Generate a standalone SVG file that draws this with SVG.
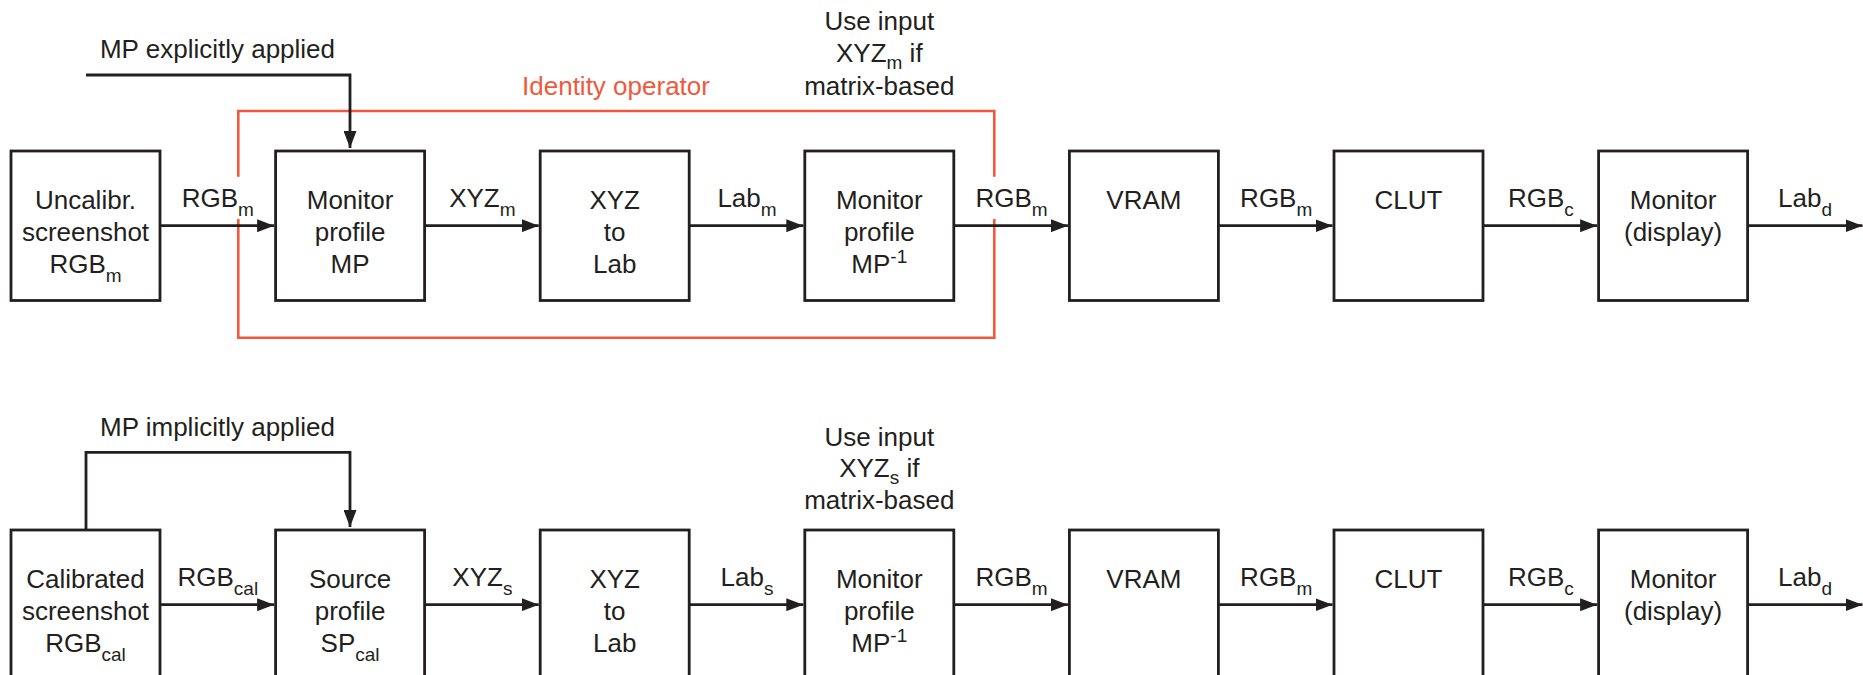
<svg xmlns="http://www.w3.org/2000/svg" width="1863" height="675" viewBox="0 0 1863 675">
<style>
text{font-family:"Liberation Sans",Arial,sans-serif;font-size:26px;fill:#231f20;text-anchor:middle}
.box{fill:#fff;stroke:#231f20;stroke-width:2.8}
.ln{fill:none;stroke:#231f20;stroke-width:2.8}
.red{fill:none;stroke:#ef5a3d;stroke-width:2.6}
.redt{fill:#ef5a3d}
.s{font-size:19px}
</style>
<defs>
<marker id="ah" markerUnits="userSpaceOnUse" markerWidth="18" markerHeight="13" refX="17" refY="6.5" orient="auto">
<path d="M0,0 L17,6.5 L0,13 Z" fill="#231f20"/>
</marker>
</defs>
<rect width="1863" height="675" fill="#fff"/>

<g id="identity-operator">
<path class="red" d="M238.3,176.7 V111 H994.3 V176.7"/>
<path class="red" d="M238.3,219 V337.7 H994.3 V219"/>
<text class="redt" x="616" y="95">Identity operator</text>
</g>

<g id="connectors">
<path class="ln" d="M86,75 H350 V148" marker-end="url(#ah)"/>
<line class="ln" x1="160" y1="225.7" x2="274.1" y2="225.7" marker-end="url(#ah)"/>
<line class="ln" x1="424.6" y1="225.7" x2="538.7" y2="225.7" marker-end="url(#ah)"/>
<line class="ln" x1="689.2" y1="225.7" x2="803.3" y2="225.7" marker-end="url(#ah)"/>
<line class="ln" x1="953.8" y1="225.7" x2="1067.9" y2="225.7" marker-end="url(#ah)"/>
<line class="ln" x1="1218.4" y1="225.7" x2="1332.5" y2="225.7" marker-end="url(#ah)"/>
<line class="ln" x1="1483" y1="225.7" x2="1597.1" y2="225.7" marker-end="url(#ah)"/>
<line class="ln" x1="1747.6" y1="225.7" x2="1862.5" y2="225.7" marker-end="url(#ah)"/>

<path class="ln" d="M86,530 V452.3 H350 V527" marker-end="url(#ah)"/>
<line class="ln" x1="160" y1="604.7" x2="274.1" y2="604.7" marker-end="url(#ah)"/>
<line class="ln" x1="424.6" y1="604.7" x2="538.7" y2="604.7" marker-end="url(#ah)"/>
<line class="ln" x1="689.2" y1="604.7" x2="803.3" y2="604.7" marker-end="url(#ah)"/>
<line class="ln" x1="953.8" y1="604.7" x2="1067.9" y2="604.7" marker-end="url(#ah)"/>
<line class="ln" x1="1218.4" y1="604.7" x2="1332.5" y2="604.7" marker-end="url(#ah)"/>
<line class="ln" x1="1483" y1="604.7" x2="1597.1" y2="604.7" marker-end="url(#ah)"/>
<line class="ln" x1="1747.6" y1="604.7" x2="1862.5" y2="604.7" marker-end="url(#ah)"/>

<text x="217.5" y="58">MP explicitly applied</text>
<text x="217.5" y="436">MP implicitly applied</text>

<text x="217.8" y="207">RGB<tspan class="s" dy="9">m</tspan></text>
<text x="482.4" y="207">XYZ<tspan class="s" dy="9">m</tspan></text>
<text x="747" y="207">Lab<tspan class="s" dy="9">m</tspan></text>
<text x="1011.6" y="207">RGB<tspan class="s" dy="9">m</tspan></text>
<text x="1276.2" y="207">RGB<tspan class="s" dy="9">m</tspan></text>
<text x="1540.8" y="207">RGB<tspan class="s" dy="9">c</tspan></text>
<text x="1805" y="207">Lab<tspan class="s" dy="9">d</tspan></text>

<text x="217.8" y="586">RGB<tspan class="s" dy="9">cal</tspan></text>
<text x="482.4" y="586">XYZ<tspan class="s" dy="9">s</tspan></text>
<text x="747" y="586">Lab<tspan class="s" dy="9">s</tspan></text>
<text x="1011.6" y="586">RGB<tspan class="s" dy="9">m</tspan></text>
<text x="1276.2" y="586">RGB<tspan class="s" dy="9">m</tspan></text>
<text x="1540.8" y="586">RGB<tspan class="s" dy="9">c</tspan></text>
<text x="1805" y="586">Lab<tspan class="s" dy="9">d</tspan></text>

<text x="879.3" y="30">Use input</text>
<text x="879.3" y="62">XYZ<tspan class="s" dy="7">m</tspan><tspan dy="-7"> if</tspan></text>
<text x="879.3" y="95">matrix-based</text>

<text x="879.3" y="446">Use input</text>
<text x="879.3" y="477">XYZ<tspan class="s" dy="7">s</tspan><tspan dy="-7"> if</tspan></text>
<text x="879.3" y="509">matrix-based</text>
</g>

<g id="t-uncalibrated">
<rect class="box" x="11" y="151" width="149" height="149.5"/>
<text x="85.5" y="209">Uncalibr.</text>
<text x="85.5" y="241">screenshot</text>
<text x="85.5" y="273">RGB<tspan class="s" dy="9">m</tspan></text>
</g>
<g id="t-monitor-profile">
<rect class="box" x="275.6" y="151" width="149" height="149.5"/>
<text x="350.1" y="209">Monitor</text>
<text x="350.1" y="241">profile</text>
<text x="350.1" y="273">MP</text>
</g>
<g id="t-xyz-lab">
<rect class="box" x="540.2" y="151" width="149" height="149.5"/>
<text x="614.7" y="209">XYZ</text>
<text x="614.7" y="241">to</text>
<text x="614.7" y="273">Lab</text>
</g>
<g id="t-monitor-profile-inv">
<rect class="box" x="804.8" y="151" width="149" height="149.5"/>
<text x="879.3" y="209">Monitor</text>
<text x="879.3" y="241">profile</text>
<text x="879.3" y="273">MP<tspan class="s" dy="-10">-1</tspan></text>
</g>
<g id="t-vram">
<rect class="box" x="1069.4" y="151" width="149" height="149.5"/>
<text x="1143.9" y="209">VRAM</text>
</g>
<g id="t-clut">
<rect class="box" x="1334" y="151" width="149" height="149.5"/>
<text x="1408.5" y="209">CLUT</text>
</g>
<g id="t-monitor-display">
<rect class="box" x="1598.6" y="151" width="149" height="149.5"/>
<text x="1673.1" y="209">Monitor</text>
<text x="1673.1" y="241">(display)</text>
</g>

<g id="b-calibrated">
<rect class="box" x="11" y="530" width="149" height="152"/>
<text x="85.5" y="588">Calibrated</text>
<text x="85.5" y="620">screenshot</text>
<text x="85.5" y="652">RGB<tspan class="s" dy="9">cal</tspan></text>
</g>
<g id="b-source-profile">
<rect class="box" x="275.6" y="530" width="149" height="152"/>
<text x="350.1" y="588">Source</text>
<text x="350.1" y="620">profile</text>
<text x="350.1" y="652">SP<tspan class="s" dy="9">cal</tspan></text>
</g>
<g id="b-xyz-lab">
<rect class="box" x="540.2" y="530" width="149" height="152"/>
<text x="614.7" y="588">XYZ</text>
<text x="614.7" y="620">to</text>
<text x="614.7" y="652">Lab</text>
</g>
<g id="b-monitor-profile-inv">
<rect class="box" x="804.8" y="530" width="149" height="152"/>
<text x="879.3" y="588">Monitor</text>
<text x="879.3" y="620">profile</text>
<text x="879.3" y="652">MP<tspan class="s" dy="-10">-1</tspan></text>
</g>
<g id="b-vram">
<rect class="box" x="1069.4" y="530" width="149" height="152"/>
<text x="1143.9" y="588">VRAM</text>
</g>
<g id="b-clut">
<rect class="box" x="1334" y="530" width="149" height="152"/>
<text x="1408.5" y="588">CLUT</text>
</g>
<g id="b-monitor-display">
<rect class="box" x="1598.6" y="530" width="149" height="152"/>
<text x="1673.1" y="588">Monitor</text>
<text x="1673.1" y="620">(display)</text>
</g>
</svg>
